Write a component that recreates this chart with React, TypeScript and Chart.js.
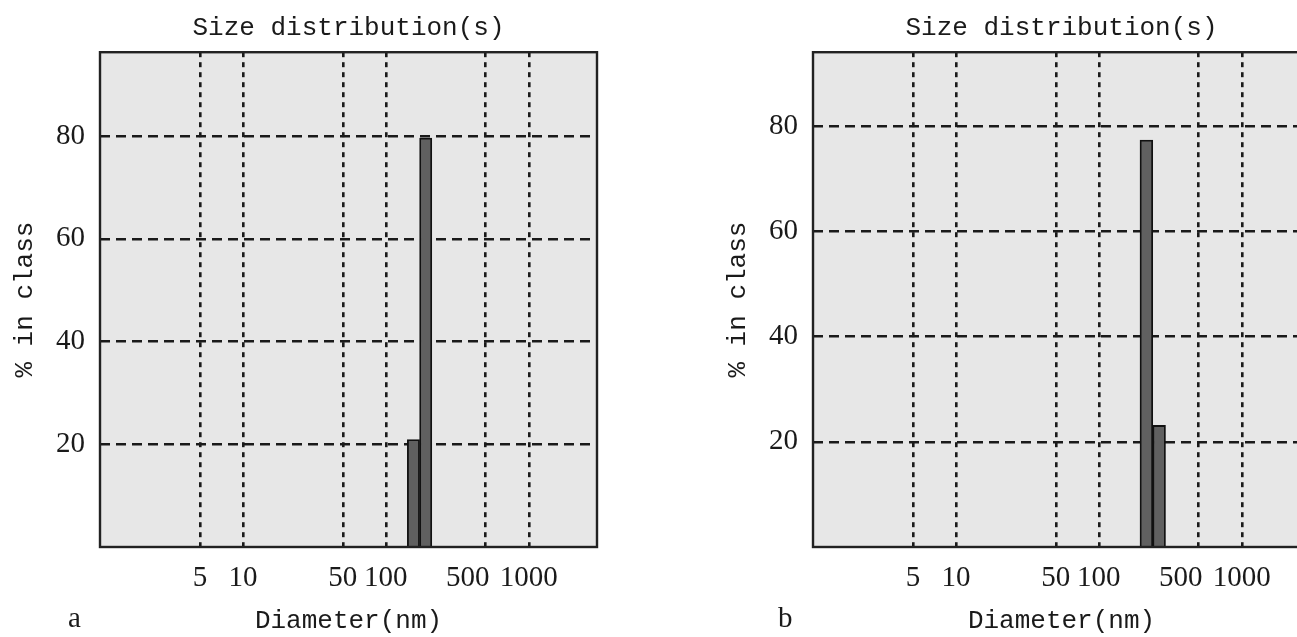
import React, { useEffect, useRef } from 'react';
import { Chart, registerables } from 'chart.js';

Chart.register(...registerables);

// ---- data ----
const xTickValues = [5, 10, 50, 100, 500, 1000];
const yTickValues = [20, 40, 60, 80];
const diametersA = [156, 190];
const percentA = [20.9, 79.6];
const diametersB = [215, 264];
const percentB = [77.3, 23.1];
const chartTitle = 'Size distribution(s)';
const xAxisTitle = 'Diameter(nm)';
const yAxisTitle = '% in class';
const panelLabels = ['a', 'b'];

const MONO = "'Liberation Mono', 'DejaVu Sans Mono', monospace";
const SERIF = "'Liberation Serif', 'DejaVu Serif', serif";

const framePlugin = {
  id: 'frame',
  beforeDraw(chart: any) {
    const { ctx, chartArea } = chart;
    const { left, top, width, height } = chartArea;
    ctx.save();
    ctx.fillStyle = '#e7e7e7';
    ctx.fillRect(left, top, width, height);
    ctx.restore();
  },
  afterDatasetsDraw(chart: any) {
    const { ctx, chartArea } = chart;
    const { left, top, width, height } = chartArea;
    ctx.save();
    ctx.strokeStyle = '#222';
    ctx.lineWidth = 2.4;
    ctx.setLineDash([]);
    ctx.strokeRect(left, top, width, height);
    ctx.restore();
  },
};

function xLabel(v: number) {
  if (v === 500) return '500     ';
  return String(v);
}

function makeConfig(diam: number[], pct: number[], yMax: number): any {
  return {
    type: 'bar',
    data: {
      datasets: [
        {
          data: diam.map((d, i) => ({ x: d, y: pct[i] })),
          backgroundColor: '#606060',
          borderColor: '#111111',
          borderWidth: 1.8,
          barPercentage: 1,
          categoryPercentage: 1,
        },
      ],
    },
    options: {
      responsive: false,
      animation: false,
      layout: { padding: { left: 0, right: 43, top: 0, bottom: 0 } },
      plugins: {
        legend: { display: false },
        tooltip: { enabled: false },
        title: {
          display: true,
          text: chartTitle,
          fullSize: false,
          color: '#1a1a1a',
          font: { family: MONO, size: 26, weight: 'normal' },
          padding: { top: 13, bottom: 8 },
        },
      },
      scales: {
        x: {
          type: 'logarithmic',
          min: 1,
          max: 3000,
          offset: false,
          afterBuildTicks: (s: any) => {
            s.ticks = xTickValues.map((v) => ({ value: v }));
          },
          afterFit: (s: any) => {
            s.height = 90;
          },
          ticks: {
            autoSkip: false,
            maxRotation: 0,
            minRotation: 0,
            color: '#1a1a1a',
            padding: 14,
            font: { family: SERIF, size: 29 },
            callback: (v: any) => xLabel(Number(v)),
          },
          grid: { color: '#1a1a1a', lineWidth: 2.6, drawTicks: false, offset: false },
          border: { display: false, dash: [5, 5] },
          title: {
            display: true,
            text: xAxisTitle,
            color: '#1a1a1a',
            font: { family: MONO, size: 26, weight: 'normal' },
            padding: { top: 0, bottom: 0 },
          },
        },
        y: {
          type: 'linear',
          min: 0,
          max: yMax,
          afterBuildTicks: (s: any) => {
            s.ticks = yTickValues.map((v) => ({ value: v }));
          },
          afterFit: (s: any) => {
            s.width = 100;
          },
          ticks: {
            color: '#1a1a1a',
            padding: 15,
            font: { family: SERIF, size: 29 },
          },
          grid: { color: '#1a1a1a', lineWidth: 2.4, drawTicks: false },
          border: { display: false, dash: [10, 6] },
          title: {
            display: true,
            text: yAxisTitle,
            color: '#1a1a1a',
            font: { family: MONO, size: 26, weight: 'normal' },
            padding: { top: 10, bottom: 0 },
          },
        },
      },
    },
    plugins: [framePlugin],
  };
}

function Panel(props: { diam: number[]; pct: number[]; yMax: number; left: number; label: string; labelX: number }) {
  const ref = useRef<HTMLCanvasElement | null>(null);
  useEffect(() => {
    if (!ref.current) return;
    const chart = new Chart(ref.current, makeConfig(props.diam, props.pct, props.yMax));
    return () => chart.destroy();
  }, []);
  return (
    <>
      <div style={{ position: 'absolute', left: props.left, top: 0, width: 640, height: 637 }}>
        <canvas ref={ref} width={640} height={637} style={{ width: 640, height: 637, display: 'block' }} />
      </div>
      <div
        style={{
          position: 'absolute',
          left: props.labelX,
          top: 600,
          fontFamily: SERIF,
          fontSize: 29,
          color: '#1a1a1a',
          lineHeight: '34px',
        }}
      >
        {props.label}
      </div>
    </>
  );
}

export default function App() {
  return (
    <div
      style={{
        position: 'absolute',
        left: 0,
        top: 0,
        width: 1297,
        height: 637,
        overflow: 'hidden',
        background: '#ffffff',
      }}
    >
      <Panel diam={diametersA} pct={percentA} yMax={96.3} left={0} label={panelLabels[0]} labelX={68} />
      <Panel diam={diametersB} pct={percentB} yMax={94} left={713} label={panelLabels[1]} labelX={778} />
    </div>
  );
}
